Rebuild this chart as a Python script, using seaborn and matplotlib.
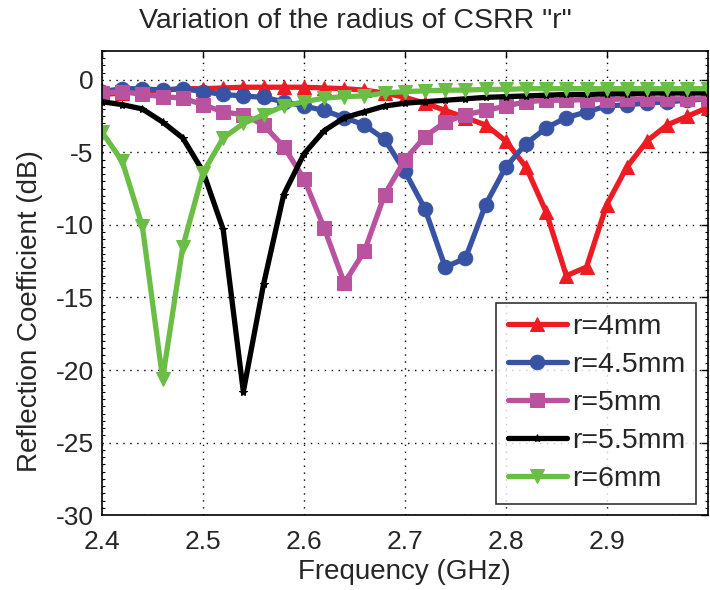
import numpy as np
import pandas as pd
import matplotlib
matplotlib.use("Agg")
import matplotlib.pyplot as plt
import seaborn as sns
from matplotlib.ticker import MultipleLocator

sns.set_theme(style="white")
plt.rcParams['font.family'] = ['Liberation Sans', 'DejaVu Sans']

freq = [2.40, 2.42, 2.44, 2.46, 2.48, 2.50, 2.52, 2.54, 2.56, 2.58,
        2.60, 2.62, 2.64, 2.66, 2.68, 2.70, 2.72, 2.74, 2.76, 2.78,
        2.80, 2.82, 2.84, 2.86, 2.88, 2.90, 2.92, 2.94, 2.96, 2.98, 3.00]

r4 = [-1.0, -0.9, -0.8, -0.7, -0.6, -0.6, -0.55, -0.5, -0.5, -0.5,
      -0.5, -0.55, -0.6, -0.7, -0.9, -1.2, -1.6, -2.1, -2.6, -3.1,
      -4.2, -6.0, -9.1, -13.5, -12.9, -8.6, -6.0, -4.2, -3.1, -2.5, -1.9]
r45 = [-0.8, -0.6, -0.6, -0.7, -0.6, -0.8, -1.0, -1.1, -1.2, -1.5,
       -1.8, -2.1, -2.6, -3.1, -4.1, -6.3, -8.9, -12.9, -12.3, -8.6,
       -6.0, -4.4, -3.3, -2.6, -2.2, -1.8, -1.7, -1.6, -1.5, -1.4, -1.3]
r5 = [-0.9, -0.8, -1.0, -1.15, -1.25, -1.7, -2.2, -2.4, -3.1, -4.6,
      -6.8, -10.2, -14.0, -11.8, -7.9, -5.5, -3.9, -2.9, -2.4, -2.1,
      -1.8, -1.5, -1.4, -1.4, -1.35, -1.35, -1.3, -1.3, -1.3, -1.3, -1.3]
r55 = [-1.5, -1.7, -2.0, -2.9, -4.0, -6.3, -10.3, -21.5, -14.1, -7.9,
       -5.1, -3.5, -2.6, -2.2, -1.8, -1.6, -1.5, -1.4, -1.3, -1.2,
       -1.15, -1.1, -1.05, -1.0, -1.0, -0.95, -0.95, -0.9, -0.9, -0.9, -0.9]
r6 = [-3.6, -5.6, -10.1, -20.6, -11.5, -6.4, -4.0, -3.0, -2.4, -1.8,
      -1.5, -1.25, -1.15, -1.1, -0.9, -0.8, -0.75, -0.7, -0.7, -0.65,
      -0.65, -0.6, -0.6, -0.6, -0.6, -0.6, -0.6, -0.6, -0.6, -0.6, -0.6]

labels = ["r=4mm", "r=4.5mm", "r=5mm", "r=5.5mm", "r=6mm"]
series = [r4, r45, r5, r55, r6]
colors = ["#ED1C24", "#3953A4", "#B9529F", "#000000", "#6ABD45"]
markers = ["^", "o", "s", "*", "v"]
msizes = [10.5, 10.5, 10.5, 6, 10.5]

xticks = [2.4, 2.5, 2.6, 2.7, 2.8, 2.9]
yticks = [0, -5, -10, -15, -20, -25, -30]

fig = plt.figure(figsize=(7.1, 5.9), dpi=100)
ax = fig.add_axes([0.1437, 0.1271, 0.853, 0.7865])

for lab, ys, c, m, ms in zip(labels, series, colors, markers, msizes):
    df = pd.DataFrame({"f": freq, "s": ys})
    sns.lineplot(data=df, x="f", y="s", ax=ax, color=c, marker=m,
                 markersize=ms, linewidth=3.8, markeredgecolor=c,
                 label=lab, sort=False, estimator=None)

ax.set_xlim(2.4, 3.0)
ax.set_ylim(-30, 2)
ax.set_xticks(xticks)
ax.set_xticklabels([f"{t:.1f}" for t in xticks])
ax.set_yticks(yticks)
ax.set_yticklabels([str(t) for t in yticks])
ax.yaxis.set_minor_locator(MultipleLocator(0.5))
ax.tick_params(axis='both', which='major', direction='in', length=5,
               labelsize=19, top=True, right=True, color='black', width=1)
ax.tick_params(axis='x', which='major', pad=11)
ax.tick_params(axis='y', which='major', pad=6)
ax.tick_params(axis='y', which='minor', direction='in', length=2,
               left=True, right=True, color='black', width=0.8)
ax.grid(True, which='major', linestyle=(0, (1, 4)), color='black', linewidth=1)
for s in ax.spines.values():
    s.set_color('black')
    s.set_linewidth(1.2)

ax.set_xlabel("")
ax.set_ylabel("")
fig.text(404 / 710, 1 - 572 / 590, "Frequency (GHz)", fontsize=20,
         ha='center', va='center')
fig.text(30 / 710, 1 - 311 / 590, "Reflection Coefficient (dB)", fontsize=20,
         rotation=90, ha='center', va='center')
fig.text(355 / 710, 1 - 21 / 590, 'Variation of the radius of CSRR "r"', fontsize=20.5,
         ha='center', va='center')

leg = ax.legend(loc='lower right', fontsize=20.5, frameon=True, fancybox=False,
                edgecolor='black', handlelength=2.1, handletextpad=0.15,
                borderpad=0.4, labelspacing=0.42, borderaxespad=0.4)
leg.get_frame().set_linewidth(1.2)

fig.savefig("out.png", dpi=100)
